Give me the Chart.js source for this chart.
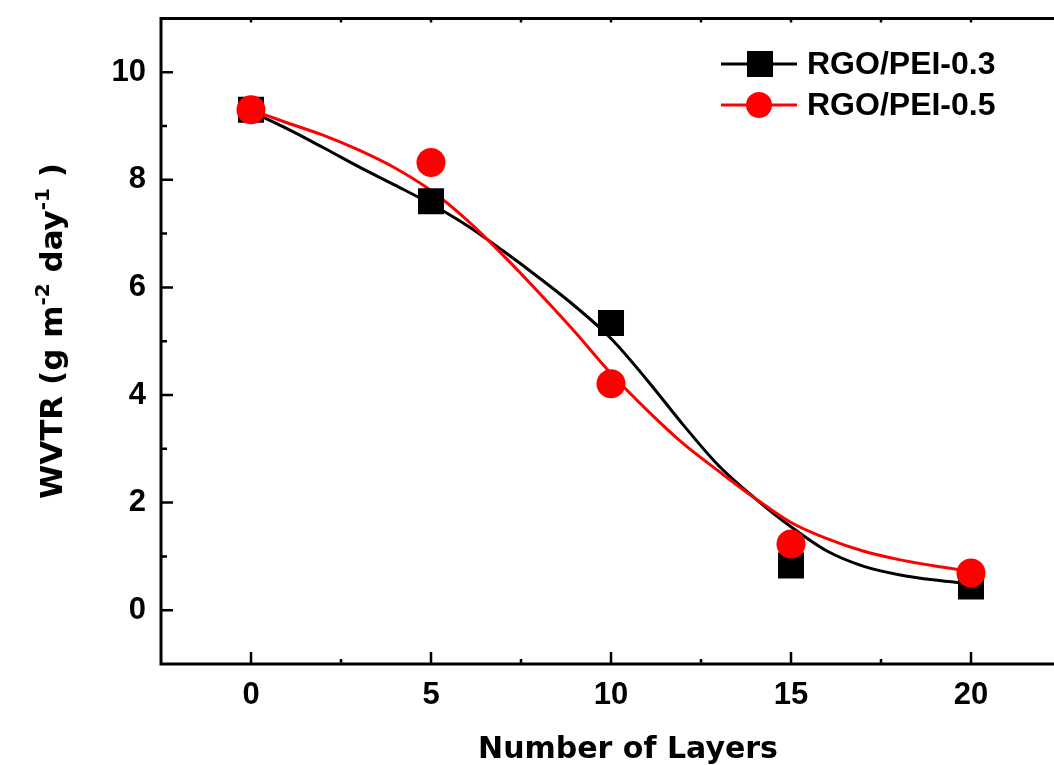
<!DOCTYPE html>
<html>
<head>
<meta charset="utf-8">
<script src="https://cdn.jsdelivr.net/npm/chart.js@4.4.1/dist/chart.umd.min.js"></script>
<style>
html, body { margin: 0; padding: 0; background: #fff; overflow: hidden; }
#wrap { width: 1110px; height: 765px; }
</style>
</head>
<body>
<div id="wrap"><canvas id="wvtrChart" width="1110" height="765"></canvas></div>
<script>
// measured points
const layers = [0, 5, 10, 15, 20];
const wvtr03 = [9.30, 7.60, 5.34, 0.83, 0.44];
const wvtr05 = [9.30, 8.32, 4.21, 1.23, 0.69];

// fitted curves
const fitX03 = [0, 1, 2, 3, 4, 5, 6, 7, 8, 9, 10, 11, 12, 13, 14, 15, 16, 17, 18, 19, 20];
const fitY03 = [9.27, 8.95, 8.60, 8.24, 7.90, 7.55, 7.15, 6.68, 6.18, 5.65, 5.05, 4.28, 3.45, 2.68, 2.08, 1.55, 1.10, 0.82, 0.66, 0.56, 0.49];
const fitX05 = [0, 1, 2, 3, 4, 5, 6, 7, 8, 9, 10, 11, 12, 13, 14, 15, 16, 17, 18, 19, 20];
const fitY05 = [9.30, 9.06, 8.83, 8.55, 8.22, 7.80, 7.25, 6.60, 5.90, 5.17, 4.40, 3.72, 3.10, 2.58, 2.08, 1.63, 1.33, 1.10, 0.94, 0.82, 0.72];

const seriesNames = ['RGO/PEI-0.3', 'RGO/PEI-0.5'];

// ticks
const xTicks = [0, 5, 10, 15, 20];
const xMinorTicks = [2.5, 7.5, 12.5, 17.5];
const yTicks = [0, 2, 4, 6, 8, 10];
const yMinorTicks = [1, 3, 5, 7, 9];

const tickFont = { family: "'Liberation Sans', Arial, sans-serif", size: 31, weight: 'bold' };
const titleFamily = "'DejaVu Sans', sans-serif";

const toPts = (xs, ys) => xs.map((x, i) => ({ x: x, y: ys[i] }));

// axes frame, inward ticks, titles and legend
const frame = {
    id: 'frame',
    afterDraw(chart) {
        const ctx = chart.ctx;
        const a = chart.chartArea;
        const x = chart.scales.x, y = chart.scales.y;
        ctx.save();
        ctx.strokeStyle = '#000';
        ctx.lineWidth = 3;
        ctx.beginPath();
        ctx.moveTo(a.right, a.top);
        ctx.lineTo(a.left, a.top);
        ctx.lineTo(a.left, a.bottom);
        ctx.lineTo(a.right, a.bottom);
        ctx.lineTo(a.right, a.top);
        ctx.stroke();

        ctx.lineWidth = 2.5;
        ctx.beginPath();
        xTicks.forEach(v => {
            const px = x.getPixelForValue(v);
            ctx.moveTo(px, a.bottom); ctx.lineTo(px, a.bottom - 12);
            ctx.moveTo(px, a.top); ctx.lineTo(px, a.top + 4);
        });
        xMinorTicks.forEach(v => {
            const px = x.getPixelForValue(v);
            ctx.moveTo(px, a.bottom); ctx.lineTo(px, a.bottom - 5);
            ctx.moveTo(px, a.top); ctx.lineTo(px, a.top + 4);
        });
        yTicks.forEach(v => {
            const py = y.getPixelForValue(v);
            ctx.moveTo(a.left, py); ctx.lineTo(a.left + 12, py);
        });
        yMinorTicks.forEach(v => {
            const py = y.getPixelForValue(v);
            ctx.moveTo(a.left, py); ctx.lineTo(a.left + 6, py);
        });
        ctx.stroke();

        ctx.fillStyle = '#000';
        // x title
        ctx.font = 'bold 30px ' + titleFamily;
        ctx.textAlign = 'center';
        ctx.textBaseline = 'alphabetic';
        ctx.fillText('Number of Layers', 628, 758);

        // y title with superscripts
        const parts = [
            { t: 'WVTR (g m', sup: false },
            { t: '-2', sup: true },
            { t: ' day', sup: false },
            { t: '-1', sup: true },
            { t: ' )', sup: false }
        ];
        const mainF = 'bold 31px ' + titleFamily;
        const supF = 'bold 20px ' + titleFamily;
        let total = 0;
        parts.forEach(p => { ctx.font = p.sup ? supF : mainF; p.w = ctx.measureText(p.t).width; total += p.w; });
        ctx.save();
        ctx.translate(62, 331);
        ctx.rotate(-Math.PI / 2);
        ctx.textAlign = 'left';
        let cx = -total / 2;
        parts.forEach(p => {
            ctx.font = p.sup ? supF : mainF;
            ctx.fillText(p.t, cx, p.sup ? -13 : 0);
            cx += p.w;
        });
        ctx.restore();

        // legend
        const rows = [
            { name: seriesNames[0], color: '#000', shape: 'rect', y: 64 },
            { name: seriesNames[1], color: '#ff0000', shape: 'circle', y: 105 }
        ];
        rows.forEach(r => {
            ctx.strokeStyle = r.color;
            ctx.fillStyle = r.color;
            ctx.lineWidth = 3;
            ctx.beginPath();
            ctx.moveTo(721, r.y); ctx.lineTo(797, r.y);
            ctx.stroke();
            if (r.shape === 'rect') {
                ctx.fillRect(760 - 13, r.y - 13, 26, 26);
            } else {
                ctx.beginPath();
                ctx.arc(759, r.y, 13, 0, Math.PI * 2);
                ctx.fill();
            }
            ctx.fillStyle = '#000';
            ctx.font = "bold 32px 'Liberation Sans', Arial, sans-serif";
            ctx.textAlign = 'left';
            ctx.textBaseline = 'middle';
            ctx.fillText(r.name, 807, r.y + 1);
        });
        ctx.restore();
    }
};

const zeroPad = s => { s.paddingTop = 0; s.paddingBottom = 0; s.paddingLeft = 0; s.paddingRight = 0; };

const ctx = document.getElementById('wvtrChart').getContext('2d');
new Chart(ctx, {
    type: 'scatter',
    data: {
        datasets: [
            {
                label: seriesNames[0] + ' fit',
                data: toPts(fitX03, fitY03),
                showLine: true,
                borderColor: '#000',
                borderWidth: 3,
                pointRadius: 0,
                cubicInterpolationMode: 'monotone',
                order: 4
            },
            {
                label: seriesNames[1] + ' fit',
                data: toPts(fitX05, fitY05),
                showLine: true,
                borderColor: '#ff0000',
                borderWidth: 3,
                pointRadius: 0,
                cubicInterpolationMode: 'monotone',
                order: 3
            },
            {
                label: seriesNames[0],
                data: toPts(layers, wvtr03),
                pointStyle: 'rect',
                pointRadius: 18.4,
                backgroundColor: '#000',
                borderColor: '#000',
                borderWidth: 0,
                order: 2
            },
            {
                label: seriesNames[1],
                data: toPts(layers, wvtr05),
                pointStyle: 'circle',
                pointRadius: 14.5,
                backgroundColor: '#ff0000',
                borderColor: '#ff0000',
                borderWidth: 0,
                order: 1
            }
        ]
    },
    options: {
        responsive: false,
        animation: false,
        layout: { padding: { top: 15, right: 49, left: 0, bottom: 0 } },
        plugins: {
            legend: { display: false },
            tooltip: { enabled: false }
        },
        scales: {
            x: {
                type: 'linear',
                min: -2.5,
                max: 22.5,
                grid: { display: false },
                border: { display: false },
                ticks: { font: tickFont, color: '#000', padding: 5, maxRotation: 0 },
                afterBuildTicks: s => { s.ticks = xTicks.map(v => ({ value: v })); },
                afterFit: s => { s.height = 101; zeroPad(s); }
            },
            y: {
                type: 'linear',
                min: -1,
                max: 11,
                grid: { display: false },
                border: { display: false },
                ticks: { font: tickFont, color: '#000', padding: 7 },
                afterBuildTicks: s => { s.ticks = yTicks.map(v => ({ value: v })); },
                afterFit: s => { s.width = 161; zeroPad(s); }
            }
        }
    },
    plugins: [frame]
});
</script>
</body>
</html>
